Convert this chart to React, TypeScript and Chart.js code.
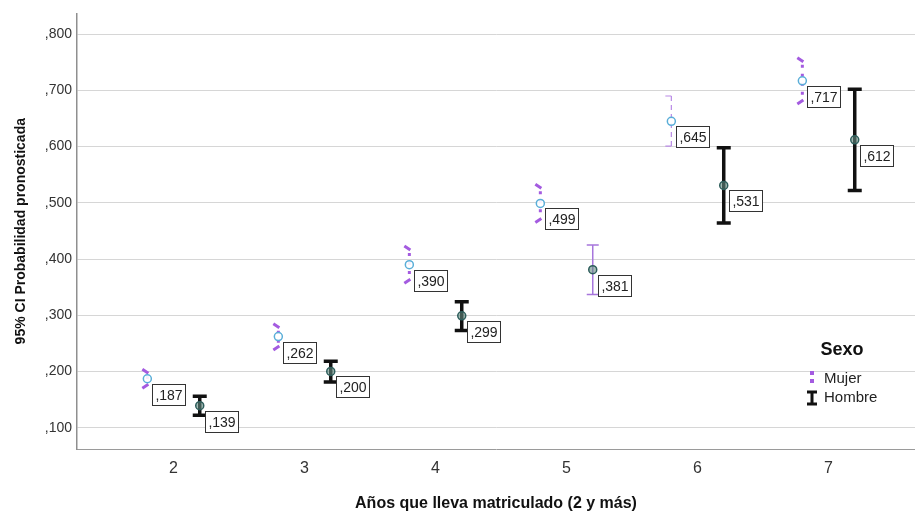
import React, { useEffect, useRef } from "react";
import { Chart, registerables } from "chart.js";

Chart.register(...registerables);

// ---------- data ----------
const categories = [2, 3, 4, 5, 6, 7];
const seriesNames = ["Mujer", "Hombre"];
const mujerMean = [0.187, 0.262, 0.39, 0.499, 0.645, 0.717];
const mujerLower = [0.17, 0.238, 0.357, 0.465, 0.601, 0.676];
const mujerUpper = [0.204, 0.285, 0.423, 0.533, 0.69, 0.758];
const hombreMean = [0.139, 0.2, 0.299, 0.381, 0.531, 0.612];
const hombreLower = [0.122, 0.181, 0.273, 0.337, 0.464, 0.522];
const hombreUpper = [0.156, 0.218, 0.324, 0.425, 0.598, 0.702];
const yTicks = [0.1, 0.2, 0.3, 0.4, 0.5, 0.6, 0.7, 0.8];
const legendTitle = "Sexo";
const xTitle = "Años que lleva matriculado (2 y más)";
const yTitle = "95% CI Probabilidad pronosticada";

// ---------- styles ----------
const mujerBarStyle = ["dotted", "dotted", "dotted", "dotted", "thinDashed", "dotted"];
const hombreBarStyle = ["solid", "solid", "solid", "thin", "solid", "solid"];
const GROUP_OFFSET = 0.2;
const FONT = "'Liberation Sans', Arial, sans-serif";
const PURPLE = "#a45be0";

const fmt = (v: number) => v.toFixed(3).replace(/^0\./, ",");

function drawBar(ctx: CanvasRenderingContext2D, x: number, yTop: number, yBot: number, style: string) {
  ctx.save();
  ctx.lineCap = "butt";
  if (style === "solid") {
    ctx.strokeStyle = "#111";
    ctx.lineWidth = 3.5;
    ctx.beginPath();
    ctx.moveTo(x, yTop);
    ctx.lineTo(x, yBot);
    ctx.moveTo(x - 7, yTop);
    ctx.lineTo(x + 7, yTop);
    ctx.moveTo(x - 7, yBot);
    ctx.lineTo(x + 7, yBot);
    ctx.stroke();
  } else if (style === "thin") {
    ctx.strokeStyle = "#a776dc";
    ctx.lineWidth = 1.5;
    ctx.beginPath();
    ctx.moveTo(x, yTop);
    ctx.lineTo(x, yBot);
    ctx.moveTo(x - 6, yTop);
    ctx.lineTo(x + 6, yTop);
    ctx.moveTo(x - 6, yBot);
    ctx.lineTo(x + 6, yBot);
    ctx.stroke();
  } else if (style === "thinDashed") {
    ctx.strokeStyle = "#b98ae6";
    ctx.lineWidth = 1.2;
    ctx.setLineDash([5, 4]);
    ctx.beginPath();
    ctx.moveTo(x, yTop);
    ctx.lineTo(x, yBot);
    ctx.stroke();
    ctx.setLineDash([]);
    ctx.beginPath();
    ctx.moveTo(x - 6, yTop);
    ctx.lineTo(x, yTop);
    ctx.moveTo(x - 6, yBot);
    ctx.lineTo(x, yBot);
    ctx.stroke();
  } else {
    // dotted thick purple
    ctx.strokeStyle = PURPLE;
    ctx.lineWidth = 3;
    ctx.setLineDash([3, 6]);
    ctx.beginPath();
    ctx.moveTo(x, yTop + 7);
    ctx.lineTo(x, yBot - 7);
    ctx.stroke();
    ctx.setLineDash([]);
    ctx.beginPath();
    ctx.moveTo(x - 5, yTop);
    ctx.lineTo(x + 1, yTop + 4);
    ctx.moveTo(x - 5, yBot);
    ctx.lineTo(x + 1, yBot - 4);
    ctx.stroke();
  }
  ctx.restore();
}

const errorBarPlugin = {
  id: "errorBars",
  beforeDatasetsDraw(chart: any) {
    const { ctx, scales } = chart;
    const xs = scales.x;
    const ys = scales.y;
    categories.forEach((c, i) => {
      drawBar(
        ctx,
        xs.getPixelForValue(c - GROUP_OFFSET),
        ys.getPixelForValue(mujerUpper[i]),
        ys.getPixelForValue(mujerLower[i]),
        mujerBarStyle[i]
      );
      drawBar(
        ctx,
        xs.getPixelForValue(c + GROUP_OFFSET),
        ys.getPixelForValue(hombreUpper[i]),
        ys.getPixelForValue(hombreLower[i]),
        hombreBarStyle[i]
      );
    });
  },
};

function drawValueLabel(ctx: CanvasRenderingContext2D, px: number, py: number, v: number) {
  const text = fmt(v);
  ctx.save();
  ctx.font = `14px ${FONT}`;
  const w = Math.round(ctx.measureText(text).width) + 6;
  const h = 21;
  const left = Math.round(px + 5) + 0.5;
  const top = Math.round(py + 5) + 0.5;
  ctx.fillStyle = "#fff";
  ctx.fillRect(left, top, w, h);
  ctx.strokeStyle = "#333";
  ctx.lineWidth = 1;
  ctx.strokeRect(left, top, w, h);
  ctx.fillStyle = "#222";
  ctx.textAlign = "center";
  ctx.textBaseline = "middle";
  ctx.fillText(text, left + w / 2, top + h / 2 + 1);
  ctx.restore();
}

const labelPlugin = {
  id: "valueLabels",
  afterDatasetsDraw(chart: any) {
    const { ctx, scales } = chart;
    const xs = scales.x;
    const ys = scales.y;
    categories.forEach((c, i) => {
      drawValueLabel(ctx, xs.getPixelForValue(c - GROUP_OFFSET), ys.getPixelForValue(mujerMean[i]), mujerMean[i]);
      drawValueLabel(ctx, xs.getPixelForValue(c + GROUP_OFFSET), ys.getPixelForValue(hombreMean[i]), hombreMean[i]);
    });
  },
};

const legendPlugin = {
  id: "sexoLegend",
  afterDraw(chart: any) {
    const { ctx } = chart;
    ctx.save();
    ctx.fillStyle = "#111";
    ctx.textBaseline = "middle";
    ctx.font = `bold 18px ${FONT}`;
    ctx.textAlign = "center";
    ctx.fillText(legendTitle, 842, 350);
    ctx.textAlign = "left";
    ctx.font = `15px ${FONT}`;
    ctx.fillStyle = "#222";
    ctx.fillText(seriesNames[0], 824, 379);
    ctx.fillText(seriesNames[1], 824, 398);
    // Mujer icon
    ctx.fillStyle = PURPLE;
    ctx.fillRect(810, 371, 4, 4);
    ctx.fillRect(810, 379, 4, 4);
    // Hombre icon
    ctx.strokeStyle = "#111";
    ctx.lineWidth = 3;
    ctx.beginPath();
    ctx.moveTo(812, 391);
    ctx.lineTo(812, 405);
    ctx.moveTo(807, 392);
    ctx.lineTo(817, 392);
    ctx.moveTo(807, 404);
    ctx.lineTo(817, 404);
    ctx.stroke();
    ctx.restore();
  },
};

export default function App() {
  const ref = useRef<HTMLCanvasElement>(null);
  useEffect(() => {
    const chart = new Chart(ref.current as HTMLCanvasElement, {
      type: "scatter",
      data: {
        datasets: [
          {
            label: seriesNames[0],
            data: categories.map((c, i) => ({ x: c - GROUP_OFFSET, y: mujerMean[i] })),
            pointRadius: 4,
            pointBorderWidth: 1.5,
            borderColor: "#5aaed8",
            backgroundColor: "rgba(255,255,255,0.9)",
          },
          {
            label: seriesNames[1],
            data: categories.map((c, i) => ({ x: c + GROUP_OFFSET, y: hombreMean[i] })),
            pointRadius: 4,
            pointBorderWidth: 1.5,
            borderColor: "#2e5e5c",
            backgroundColor: "rgba(100,140,130,0.6)",
          },
        ],
      },
      options: {
        responsive: false,
        animation: false,
        layout: { autoPadding: false, padding: { top: 12, right: 0, left: 0, bottom: 0 } },
        plugins: {
          legend: { display: false },
          tooltip: { enabled: false },
        },
        scales: {
          x: {
            type: "linear",
            min: 1.263,
            max: 7.66,
            afterBuildTicks: (s: any) => {
              s.ticks = categories.map((v) => ({ value: v }));
            },
            afterFit: (s: any) => {
              s.height = 66;
            },
            grid: { display: false, drawTicks: false },
            border: { display: true, color: "#9a9a9a", width: 1 },
            ticks: {
              padding: 10,
              color: "#333",
              font: { family: FONT, size: 16 },
              callback: (v: any) => String(v),
            },
            title: {
              display: true,
              text: xTitle,
              color: "#111",
              font: { family: FONT, size: 16, weight: "bold" },
              padding: { top: 0, bottom: 2 },
            },
          },
          y: {
            type: "linear",
            min: 0.062,
            max: 0.837,
            afterBuildTicks: (s: any) => {
              s.ticks = yTicks.map((v) => ({ value: v }));
            },
            afterFit: (s: any) => {
              s.width = 77;
            },
            grid: { color: "#d6d6d6", lineWidth: 1, drawTicks: false },
            border: { display: true, color: "#8f8f8f", width: 1.5 },
            ticks: {
              padding: 5,
              color: "#333",
              font: { family: FONT, size: 14 },
              callback: (v: any) => fmt(Number(v)),
            },
            title: {
              display: true,
              text: yTitle,
              color: "#111",
              font: { family: FONT, size: 14, weight: "bold" },
              padding: { top: 13, bottom: 0 },
            },
          },
        },
      },
      plugins: [errorBarPlugin, labelPlugin, legendPlugin],
    } as any);
    return () => chart.destroy();
  }, []);
  return (
    <div style={{ position: "fixed", left: 0, top: 0, width: 915, height: 515, background: "#fff" }}>
      <canvas ref={ref} width={915} height={515} style={{ display: "block" }} />
    </div>
  );
}
